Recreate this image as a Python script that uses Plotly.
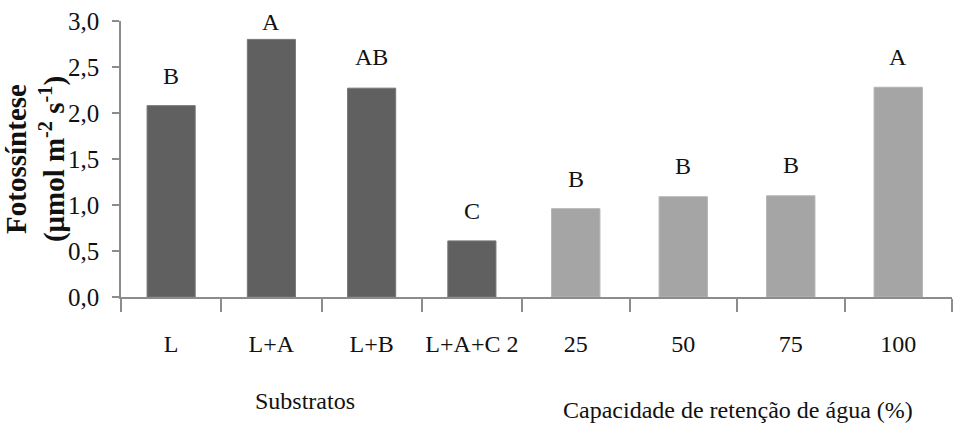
import plotly.graph_objects as go
from plotly.subplots import make_subplots

# Photosynthesis by substrate and by water-holding capacity
substrates = ["L", "L+A", "L+B", "L+A+C 2"]
substrate_values = [2.08, 2.80, 2.27, 0.61]
substrate_letters = ["B", "A", "AB", "C"]

capacities = ["25", "50", "75", "100"]
capacity_values = [0.96, 1.09, 1.10, 2.28]
capacity_letters = ["B", "B", "B", "A"]

y_ticks = [0.0, 0.5, 1.0, 1.5, 2.0, 2.5, 3.0]

FONT = "Liberation Serif, Times New Roman, serif"
TEXT = "#111111"
DARK = "#606060"
LIGHT = "#a5a5a5"
AXIS = "#8c8c8c"

# vertical gap (px) between each bar top and its letter
substrate_gaps = [19, 6, 20, 19]
capacity_gaps = [19, 20, 20, 19]

W, H = 954, 430
L_M, R_M, T_M, B_M = 121, 2, 21, 133
plot_w = W - L_M - R_M
plot_h = H - T_M - B_M

fig = make_subplots(rows=1, cols=2, shared_yaxes=True, horizontal_spacing=0,
                    column_widths=[401, 430])

fig.add_trace(go.Bar(
    x=substrates, y=substrate_values,
    marker=dict(color=DARK, line=dict(color="#777777", width=1)),
    width=0.48, showlegend=False,
), row=1, col=1)
fig.add_trace(go.Bar(
    x=capacities, y=capacity_values,
    marker=dict(color=LIGHT, line=dict(color="#b5b5b5", width=1)),
    width=0.45, showlegend=False,
), row=1, col=2)

# significance letters: positioned by category index on each category axis
annotations = []
for i, (val, lab, gap) in enumerate(zip(substrate_values, substrate_letters, substrate_gaps)):
    annotations.append(dict(x=i, y=val, xref="x", yref="y", text=lab, showarrow=False,
                            xanchor="center", yanchor="bottom", yshift=gap - 4,
                            font=dict(family=FONT, size=24, color=TEXT)))
for i, (val, lab, gap) in enumerate(zip(capacity_values, capacity_letters, capacity_gaps)):
    annotations.append(dict(x=i, y=val, xref="x2", yref="y2", text=lab, showarrow=False,
                            xanchor="center", yanchor="bottom", yshift=gap - 4,
                            font=dict(family=FONT, size=24, color=TEXT)))

# group titles below the category labels
annotations.append(dict(x=(305 - L_M) / plot_w, y=(H - B_M - 401) / plot_h,
                        xref="paper", yref="paper", text="Substratos",
                        showarrow=False, xanchor="center", yanchor="middle",
                        font=dict(family=FONT, size=24, color=TEXT)))
annotations.append(dict(x=(738 - L_M) / plot_w, y=(H - B_M - 410) / plot_h,
                        xref="paper", yref="paper", text="Capacidade de retenção de água (%)",
                        showarrow=False, xanchor="center", yanchor="middle",
                        font=dict(family=FONT, size=24, color=TEXT)))

x_style = dict(
    type="category", showline=True, linecolor=AXIS, linewidth=1.5,
    ticks="outside", tickson="boundaries", ticklen=13, tickcolor=AXIS, tickwidth=1.5,
    showgrid=False, zeroline=False, tickangle=0, ticklabelstandoff=24,
    tickfont=dict(family=FONT, size=24, color=TEXT),
)
fig.update_xaxes(**x_style)

fig.update_yaxes(range=[0, 3.0], showgrid=False, zeroline=False)
fig.update_yaxes(
    tickvals=y_ticks, tickformat=".1f",
    showline=True, linecolor=AXIS, linewidth=1.5,
    ticks="outside", ticklen=7, tickcolor=AXIS, tickwidth=1.5,
    ticklabelstandoff=8,
    tickfont=dict(family=FONT, size=25, color=TEXT),
    title=dict(text="<b>Fotossíntese<br>(μmol m<sup>-2</sup> s<sup>-1</sup>)</b>",
               font=dict(family=FONT, size=29, color=TEXT), standoff=4),
    row=1, col=1,
)
fig.update_yaxes(showline=False, ticks="", showticklabels=False, row=1, col=2)

fig.update_layout(
    width=W, height=H,
    margin=dict(l=L_M, r=R_M, t=T_M, b=B_M),
    paper_bgcolor="white", plot_bgcolor="white",
    separators=",.",
    annotations=annotations,
)

fig.write_html("out.html")
